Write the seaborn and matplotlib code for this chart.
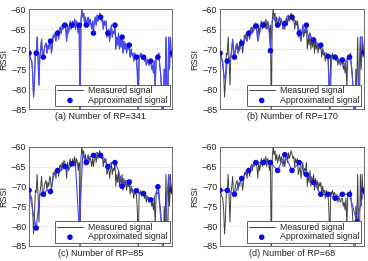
import numpy as np
import pandas as pd
import matplotlib
matplotlib.use("Agg")
import matplotlib.pyplot as plt
import seaborn as sns

# Measured RSSI signal (161 samples along the path)
measured = [
    -71, -72, -72.5, -73, -76, -82, -78, -71, -71.5, -67,
    -72, -79, -72, -70, -67.5, -72, -72, -70, -69, -68.5,
    -71, -69, -70, -67.5, -68, -71, -69, -66.5, -67, -66,
    -68, -65.5, -66, -67.5, -65, -64.5, -66, -64, -65, -63.5,
    -64, -65, -68, -64, -66, -64.5, -63, -65, -64, -63,
    -64.5, -62.5, -65, -63, -64, -66, -64, -88, -63, -60,
    -62, -61, -63.5, -62, -64, -63, -62, -64, -62.5, -63.5,
    -65, -63, -65, -63, -62, -64, -61.5, -63, -62, -61,
    -62, -63, -62.5, -65, -63, -64, -63, -67, -66, -65,
    -68, -66, -64, -67, -65.5, -66, -64, -70, -67, -69,
    -66, -70, -67.5, -69.5, -67, -71, -68, -70, -68.5, -71,
    -69, -70, -69, -72, -70, -71.5, -71, -73, -71, -72,
    -72, -76, -86, -71.5, -72, -71, -72.5, -71.5, -72, -73,
    -72, -74, -72.5, -73.5, -74, -73, -73, -75, -74, -76,
    -73, -80, -72, -71.5, -72, -71, -74, -76, -80, -87,
    -88, -75, -80, -67, -80, -84, -67, -75, -67, -72,
    -71,
]

# Approximated signal values at the 21 displayed marker positions
approx_a = [-71, -71, -72, -68, -66, -64, -64, -64, -64, -66, -62,
            -66, -64, -67, -69, -72, -72, -73, -72, -80, -71]
approx_b = [-71, -73, -72, -68.5, -66, -64.2, -64, -70.4, -64, -63.6, -62,
            -66, -64, -67.7, -69, -71.8, -72, -72.7, -72, -80, -70.8]
approx_c = [-71, -80.5, -72, -71.3, -66, -65, -64.3, -81, -64, -62.2, -62.2,
            -65, -64, -70, -68.9, -71.1, -71.8, -73.4, -70.1, -80, -71]
approx_d = [-71, -71, -72, -68, -66, -64, -64, -64, -66, -62, -66,
            -64, -67, -69, -72, -72, -73, -72, -72, -79, -71]

captions = ["(a) Number of RP=341", "(b) Number of RP=170",
            "(c) Number of RP=85", "(d) Number of RP=68"]
rp_steps = [1, 2, 4, 8]
yticks = [-60, -65, -70, -75, -80, -85]

sns.set_style("white")
plt.rcParams["font.family"] = ["Liberation Sans", "DejaVu Sans"]
plt.rcParams["axes.unicode_minus"] = True

fig = plt.figure(figsize=(3.68, 2.61), dpi=100)
positions = [
    [0.079, 0.582, 0.389, 0.383],
    [0.598, 0.582, 0.391, 0.383],
    [0.079, 0.058, 0.389, 0.380],
    [0.598, 0.058, 0.391, 0.380],
]
approx_all = [approx_a, approx_b, approx_c, approx_d]

meas = np.array(measured, dtype=float)
n = len(meas)
x_all = np.arange(n)
marker_step = (n - 1) // 20
marker_idx = np.arange(0, n, marker_step)

for k in range(4):
    ax = fig.add_axes(positions[k])
    step = rp_steps[k]
    idx = np.arange(0, n, step)
    blue = meas[idx].copy()
    mvals = np.array(approx_all[k], dtype=float)
    for j, mi in enumerate(marker_idx):
        pos = np.where(idx == mi)[0]
        if len(pos):
            blue[pos[0]] = mvals[j]
    df_m = pd.DataFrame({"x": x_all, "y": meas})
    df_b = pd.DataFrame({"x": idx, "y": blue})
    df_p = pd.DataFrame({"x": marker_idx, "y": mvals})
    sns.lineplot(data=df_m, x="x", y="y", ax=ax, color="#404040", lw=0.7,
                 label="Measured signal", estimator=None, sort=False)
    sns.lineplot(data=df_b, x="x", y="y", ax=ax, color="#4848ff", lw=0.8,
                 estimator=None, sort=False, legend=False)
    sns.scatterplot(data=df_p, x="x", y="y", ax=ax, color="#0a0ae0", s=16,
                    edgecolor="none", label="Approximated signal", zorder=4)
    ax.set_xlim(0, n - 1)
    ax.set_ylim(-85, -60)
    ax.set_yticks(yticks)
    ax.set_xticks([])
    ax.tick_params(axis="y", labelsize=6.5, direction="in", length=2,
                   pad=2, colors="#222222")
    ax.yaxis.grid(True, linestyle=(0, (1, 2)), color="#bbbbbb", lw=0.6)
    ax.set_xlabel(captions[k], fontsize=6.5, labelpad=2, color="#222222")
    ax.set_ylabel("RSSI", fontsize=6.5, labelpad=2, color="#222222")
    for sp in ax.spines.values():
        sp.set_color("#555555")
        sp.set_linewidth(0.6)
    leg = ax.legend(loc="lower right", fontsize=6.3, frameon=True,
                    fancybox=False, borderpad=0.2, labelspacing=0.05,
                    handlelength=3.0, handletextpad=0.6, borderaxespad=0.3,
                    markerscale=1.0)
    leg.get_frame().set_edgecolor("#444444")
    leg.get_frame().set_linewidth(0.6)
    leg.get_frame().set_alpha(1)

fig.savefig("out.png", dpi=100)
